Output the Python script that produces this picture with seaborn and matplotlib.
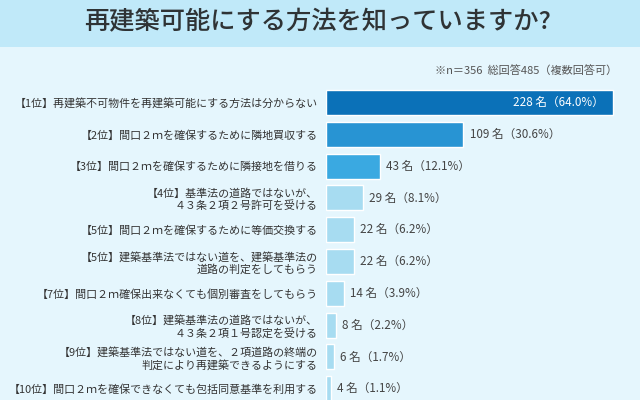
import matplotlib
matplotlib.use("Agg")
import matplotlib.pyplot as plt
import seaborn as sns
import pandas as pd
from matplotlib.patches import Rectangle

labels = [
    "【1位】再建築不可物件を再建築可能にする方法は分からない",
    "【2位】間口２ｍを確保するために隣地買収する",
    "【3位】間口２ｍを確保するために隣接地を借りる",
    "【4位】基準法の道路ではないが、\n４３条２項２号許可を受ける",
    "【5位】間口２ｍを確保するために等価交換する",
    "【5位】建築基準法ではない道を、建築基準法の\n道路の判定をしてもらう",
    "【7位】間口２ｍ確保出来なくても個別審査をしてもらう",
    "【8位】建築基準法の道路ではないが、\n４３条２項１号認定を受ける",
    "【9位】建築基準法ではない道を、２項道路の終端の\n判定により再建築できるようにする",
    "【10位】間口２ｍを確保できなくても包括同意基準を利用する",
]
counts = [228, 109, 43, 29, 22, 22, 14, 8, 6, 4]
percents = ["64.0", "30.6", "12.1", "8.1", "6.2", "6.2", "3.9", "2.2", "1.7", "1.1"]
bar_colors = ["#0b71b8", "#2894d3", "#3aa9e1"] + ["#a7dcf1"] * 7

title = "再建築可能にする方法を知っていますか?"
note = "※n＝356  総回答485（複数回答可）"

sns.set_theme(style="white")
plt.rcParams["font.family"] = ["Noto Sans CJK JP", "DejaVu Sans"]

W, H = 640, 400
fig = plt.figure(figsize=(6.4, 4.0), dpi=100)
fig.patch.set_facecolor("#e5f6fd")

# title band
band = Rectangle((0, 1 - 47 / H), 1, 47 / H, transform=fig.transFigure,
                 facecolor="#c0e9f9", edgecolor="none", zorder=0)
fig.patches.append(band)
fig.text(318 / W, 1 - 22 / H, title, ha="center", va="center",
         fontsize=18.2, color="#2f3335", fontweight="medium")
fig.text(617 / W, 1 - 70 / H, note, ha="right", va="center",
         fontsize=8.0, color="#555555")

ax_left, ax_top = 326, 70
ax = fig.add_axes([ax_left / W, 0, (W - ax_left) / W, (H - ax_top) / H])
ax.set_facecolor("none")

df = pd.DataFrame({"label": labels, "count": counts})
sns.barplot(data=df, x="count", y="label", hue="label", palette=bar_colors,
            orient="h", width=0.79, legend=False, ax=ax, saturation=1)

pitch = 31.8
first_center = 102.5
top_idx = -(first_center - ax_top) / pitch
bot_idx = (H - first_center) / pitch
ax.set_ylim(bot_idx, top_idx)
scale = 287 / 228.0
ax.set_xlim(0, (W - ax_left) / scale)

for s in ax.spines.values():
    s.set_visible(False)
ax.set_xticks([])
ax.set_xlabel("")
ax.set_ylabel("")
ax.tick_params(axis="y", length=0, pad=6, labelsize=7.9, labelcolor="#333333")

for i, (c, p) in enumerate(zip(counts, percents)):
    txt = f"{c} 名（{p}%）"
    if i == 0:
        ax.text(c - 7, i, txt, ha="right", va="center", fontsize=8.4, color="white")
    else:
        ax.text(c + 5, i, txt, ha="left", va="center", fontsize=8.4, color="#444444")

fig.savefig("out.png", dpi=100, facecolor=fig.get_facecolor())
